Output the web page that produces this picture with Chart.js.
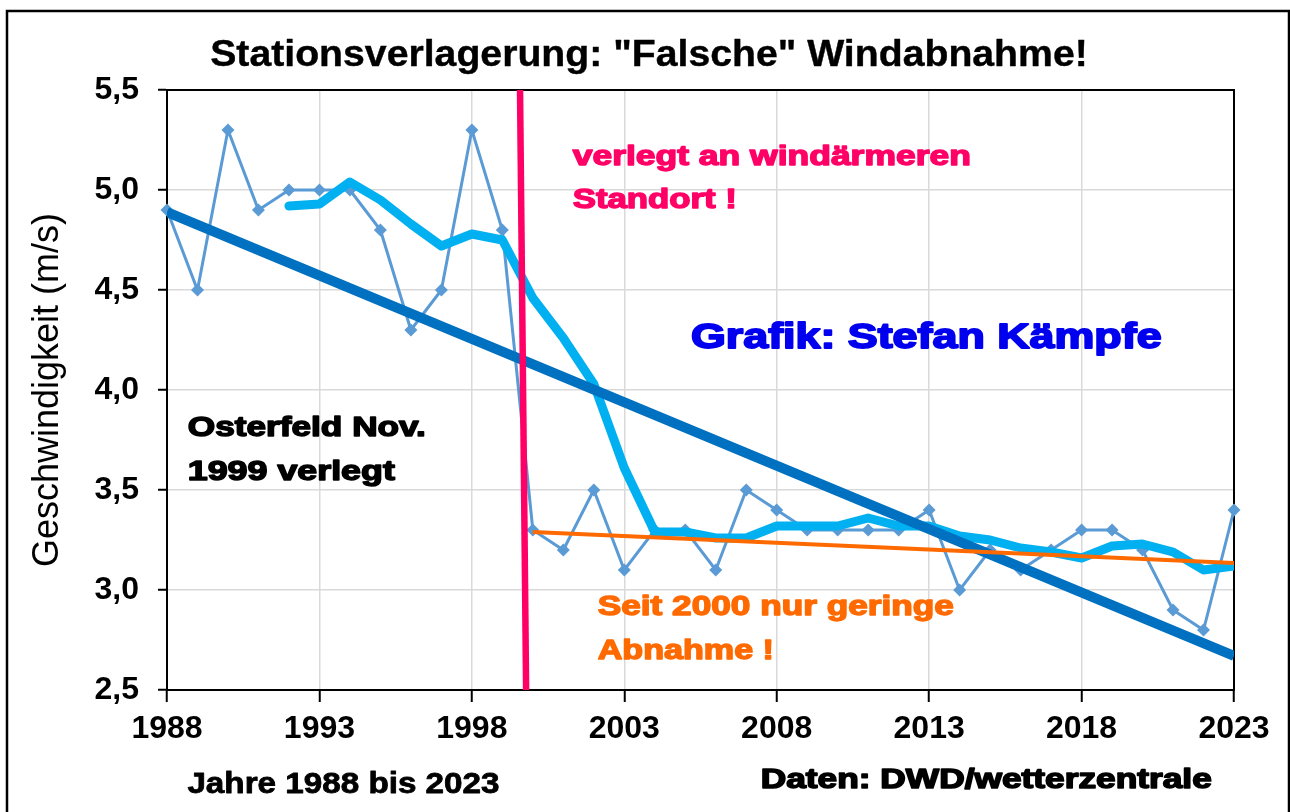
<!DOCTYPE html>
<html>
<head>
<meta charset="utf-8">
<script src="https://cdn.jsdelivr.net/npm/chart.js@4.4.1/dist/chart.umd.min.js"></script>
<style>
	html, body { margin: 0; padding: 0; background: #fff; }
	#wrap { position: relative; width: 1290px; height: 812px; }
</style>
</head>
<body>
<div id="wrap"><canvas id="windChart"></canvas></div>
<script>
const FONT = "'Liberation Sans', Arial, sans-serif";

// Jahresmittel der Windgeschwindigkeit (m/s)
const years = [1988, 1989, 1990, 1991, 1992, 1993, 1994, 1995, 1996, 1997, 1998, 1999,
	2000, 2001, 2002, 2003, 2004, 2005, 2006, 2007, 2008, 2009, 2010, 2011,
	2012, 2013, 2014, 2015, 2016, 2017, 2018, 2019, 2020, 2021, 2022, 2023];
const wind = [4.9, 4.5, 5.3, 4.9, 5.0, 5.0, 5.0, 4.8, 4.3, 4.5, 5.3, 4.8,
	3.3, 3.2, 3.5, 3.1, 3.3, 3.3, 3.1, 3.5, 3.4, 3.3, 3.3, 3.3,
	3.3, 3.4, 3.0, 3.2, 3.1, 3.2, 3.3, 3.3, 3.2, 2.9, 2.8, 3.4];

// gleitendes Mittel (dicke hellblaue Linie)
const maYears = [1992, 1993, 1994, 1995, 1996, 1997, 1998, 1999, 2000, 2001, 2002, 2003,
	2004, 2005, 2006, 2007, 2008, 2009, 2010, 2011, 2012, 2013, 2014, 2015,
	2016, 2017, 2018, 2019, 2020, 2021, 2022, 2023];
const maValues = [4.92, 4.93, 5.04, 4.95, 4.83, 4.72, 4.78, 4.75, 4.46, 4.26, 4.03, 3.61,
	3.29, 3.29, 3.26, 3.26, 3.32, 3.32, 3.32, 3.36, 3.32, 3.32, 3.27, 3.25,
	3.21, 3.19, 3.16, 3.22, 3.23, 3.19, 3.10, 3.12];

// lineare Trends
const trendYears = [1988, 2023];
const trendValues = [4.89, 2.67];
const trend2000Years = [2000, 2023];
const trend2000Values = [3.29, 3.135];

// Stationsverlegung Nov. 1999
const relocYears = [1999.58, 1999.78];
const relocValues = [5.5, 2.5];

const xTicks = [1988, 1993, 1998, 2003, 2008, 2013, 2018, 2023];
const yTicks = [2.5, 3.0, 3.5, 4.0, 4.5, 5.0, 5.5];

function pts(xs, ys) {
	return xs.map(function(x, i) { return { x: x, y: ys[i] }; });
}

// Text fett, auf Zielbreite gestreckt, optional mit Kontur fuer "Black"-Optik
function drawText(ctx, text, x, y, size, color, width, heavy) {
	heavy = heavy || 0;
	ctx.save();
	ctx.font = 'bold ' + size + 'px ' + FONT;
	ctx.textAlign = 'left';
	ctx.textBaseline = 'alphabetic';
	const w = ctx.measureText(text).width + heavy;
	const sx = width ? width / w : 1;
	ctx.translate(x + heavy / 2, y);
	ctx.scale(sx, 1);
	ctx.fillStyle = color;
	ctx.fillText(text, 0, 0);
	if (heavy) {
		ctx.strokeStyle = color;
		ctx.lineWidth = heavy;
		ctx.lineJoin = 'round';
		ctx.strokeText(text, 0, 0);
	}
	ctx.restore();
}

const frameAndText = {
	id: 'frameAndText',
	beforeDatasetsDraw: function(chart) {
		const ctx = chart.ctx;
		const a = chart.chartArea;
		ctx.save();
		ctx.strokeStyle = '#000';
		ctx.lineWidth = 2;
		ctx.strokeRect(a.left, a.top, a.right - a.left, a.bottom - a.top);
		ctx.restore();
	},
	afterDraw: function(chart) {
		const ctx = chart.ctx;
		ctx.save();
		ctx.strokeStyle = '#000';
		ctx.lineWidth = 2.5;
		ctx.strokeRect(7, 11, 1282, 900);
		ctx.restore();

		drawText(ctx, 'Stationsverlagerung: "Falsche" Windabnahme!', 210, 66, 37, '#000', 878, 0.4);
		drawText(ctx, 'verlegt an windärmeren', 572, 165, 27, '#FF0066', 400, 1.4);
		drawText(ctx, 'Standort !', 572, 208, 27, '#FF0066', 166, 1.4);
		drawText(ctx, 'Grafik: Stefan Kämpfe', 690, 348, 35, '#0000EE', 473, 1.8);
		drawText(ctx, 'Osterfeld Nov.', 187, 436, 28, '#000', 240, 1.5);
		drawText(ctx, '1999 verlegt', 187, 480, 28, '#000', 209, 1.5);
		drawText(ctx, 'Seit 2000 nur geringe', 597, 615, 27, '#FF6A00', 358, 1.4);
		drawText(ctx, 'Abnahme !', 597, 659, 27, '#FF6A00', 178, 1.4);
		drawText(ctx, 'Jahre 1988 bis 2023', 187, 793, 29, '#000', 313, 0.8);
		drawText(ctx, 'Daten: DWD/wetterzentrale', 760, 788, 27, '#000', 453, 1.5);
	}
};

const ctx = document.getElementById('windChart');

new Chart(ctx.getContext('2d'), {
	type: 'line',
	data: {
		datasets: [{
			label: 'Verlegung',
			data: pts(relocYears, relocValues),
			borderColor: '#FF0066',
			borderWidth: 6.5,
			pointRadius: 0,
			clip: false
		}, {
			label: 'Trend seit 2000',
			data: pts(trend2000Years, trend2000Values),
			borderColor: '#FF6A00',
			borderWidth: 4,
			pointRadius: 0
		}, {
			label: 'Trend 1988-2023',
			data: pts(trendYears, trendValues),
			borderColor: '#0070C0',
			borderWidth: 10,
			pointRadius: 0
		}, {
			label: 'Gleitendes Mittel',
			data: pts(maYears, maValues),
			borderColor: '#00B0F0',
			borderWidth: 9,
			borderJoinStyle: 'round',
			borderCapStyle: 'round',
			pointRadius: 0
		}, {
			label: 'Windgeschwindigkeit',
			data: pts(years, wind),
			borderColor: '#5B9BD5',
			borderWidth: 3,
			pointStyle: 'rectRot',
			pointRadius: 6.5,
			pointBackgroundColor: '#5B9BD5',
			pointBorderColor: '#5B9BD5',
			pointBorderWidth: 0,
			clip: false
		}]
	},
	options: {
		responsive: true,
		maintainAspectRatio: false,
		animation: false,
		devicePixelRatio: 1,
		layout: {
			padding: { top: 90, right: 56, bottom: 0, left: 24 }
		},
		scales: {
			x: {
				type: 'linear',
				min: 1988,
				max: 2023,
				afterBuildTicks: function(scale) {
					scale.ticks = xTicks.map(function(v) { return { value: v }; });
				},
				afterFit: function(scale) {
					scale.height = 122;
				},
				ticks: {
					color: '#000',
					font: { family: FONT, size: 32, weight: 'bold' },
					padding: 8,
					maxRotation: 0,
					callback: function(v) { return String(v); }
				},
				grid: {
					color: '#D9D9D9',
					lineWidth: 1.5,
					tickColor: '#000',
					tickWidth: 2,
					tickLength: 12
				},
				border: { color: '#000', width: 2 }
			},
			y: {
				min: 2.5,
				max: 5.5,
				afterBuildTicks: function(scale) {
					scale.ticks = yTicks.map(function(v) { return { value: v }; });
				},
				afterFit: function(scale) {
					scale.width = 143;
				},
				ticks: {
					color: '#000',
					font: { family: FONT, size: 32, weight: 'bold' },
					padding: 19,
					callback: function(v) { return v.toFixed(1).replace('.', ','); }
				},
				grid: {
					color: '#D9D9D9',
					lineWidth: 1.5,
					tickColor: '#000',
					tickWidth: 2,
					tickLength: 9
				},
				border: { color: '#000', width: 2 },
				title: {
					display: true,
					text: 'Geschwindigkeit (m/s)',
					color: '#000',
					font: { family: FONT, size: 36 },
					padding: { top: 2, bottom: 0 }
				}
			}
		},
		plugins: {
			legend: { display: false },
			tooltip: { enabled: false }
		}
	},
	plugins: [frameAndText]
});
</script>
</body>
</html>
